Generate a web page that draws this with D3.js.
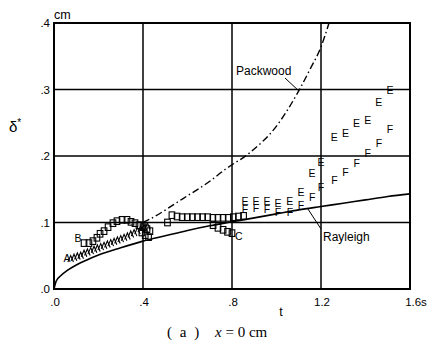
<!DOCTYPE html>
<head>
<meta charset='utf-8'>
<style>
  body { margin: 0; background: #fff; }
  svg text { fill: #000; }
  .tick-label { font-family: 'Liberation Sans', Arial, sans-serif; font-size: 11.5px; }
  .sym-letter { font-family: 'Liberation Sans', Arial, sans-serif; font-size: 10.5px; }
  .caption { font-family: 'Liberation Serif', 'Times New Roman', serif; font-size: 15px; }
</style>
</head>
<body>
<div id='vis'></div>
<script src='https://d3js.org/d3.v7.min.js'></script>
<script>
  // axis ticks and labels
  const xTicks = [0, 0.4, 0.8, 1.2, 1.6]
  const xTickLabels = ['.0', '.4', '.8', '1.2', '1.6s']
  const yTicks = [0, 0.1, 0.2, 0.3, 0.4]
  const yTickLabels = ['.0', '.1', '.2', '.3', '.4']

  // theory curves [t, delta*]
  const rayleigh = [[0,0],[0.01,0.012],[0.03,0.02],[0.06,0.028],[0.1,0.036],[0.15,0.044],[0.2,0.051],
    [0.3,0.062],[0.4,0.072],[0.5,0.08],[0.6,0.088],[0.7,0.095],[0.8,0.101],[0.9,0.107],[1.0,0.113],
    [1.1,0.119],[1.2,0.124],[1.3,0.129],[1.4,0.134],[1.5,0.139],[1.6,0.143]]
  const packwood = [[0.40,0.100],[0.43,0.105],[0.58,0.136],[0.70,0.162],[0.77,0.180],[0.88,0.205],
    [1.0,0.245],[1.1,0.298],[1.15,0.330],[1.2,0.364],[1.236,0.400]]

  // measured series [t, delta*]
  const seriesA = [[0.075,0.045],[0.09,0.047],[0.105,0.049],[0.12,0.050],[0.135,0.053],[0.15,0.055],
    [0.165,0.057],[0.18,0.059],[0.195,0.061],[0.21,0.063],[0.225,0.065],[0.24,0.067],[0.255,0.069],
    [0.27,0.071],[0.285,0.073],[0.30,0.075],[0.315,0.077],[0.33,0.079],[0.345,0.082],[0.36,0.084],
    [0.375,0.087],[0.39,0.090],[0.405,0.092],[0.42,0.094]]
  const seriesB = [[0.135,0.069],[0.157,0.069],[0.175,0.072],[0.193,0.077],[0.207,0.083],[0.225,0.087],
    [0.243,0.093],[0.265,0.099],[0.283,0.102],[0.306,0.104],[0.328,0.104],[0.346,0.101],[0.364,0.099],
    [0.382,0.096],[0.40,0.093],[0.418,0.090],[0.431,0.087],[0.395,0.085],[0.41,0.081],[0.425,0.078],
    [0.51,0.100],[0.53,0.111],[0.553,0.109],[0.576,0.108],[0.599,0.108],[0.622,0.108],[0.645,0.108],
    [0.668,0.108],[0.691,0.108],[0.714,0.107],[0.737,0.107],[0.76,0.107],[0.783,0.107],[0.806,0.108],
    [0.829,0.109],[0.852,0.110]]
  const seriesC = [[0.715,0.096],[0.737,0.092],[0.76,0.089],[0.78,0.086],[0.80,0.084]]
  const seriesE = [[0.858,0.132],[0.908,0.132],[0.957,0.132],[1.007,0.129],[1.06,0.132],[1.11,0.146],
    [1.16,0.174],[1.20,0.191],[1.26,0.229],[1.31,0.235],[1.36,0.250],[1.41,0.254],[1.46,0.281],[1.51,0.300]]
  const seriesF = [[0.858,0.120],[0.908,0.122],[0.957,0.120],[1.007,0.116],[1.06,0.116],[1.11,0.126],
    [1.16,0.138],[1.20,0.153],[1.26,0.164],[1.31,0.176],[1.36,0.189],[1.41,0.204],[1.46,0.220],[1.51,0.241]]

  const W = 433, H = 344

  const x = d3.scaleLinear().domain([0, 1.6]).range([54, 410])
  const y = d3.scaleLinear().domain([0, 0.4]).range([289, 23])

  const svg = d3.select('#vis').append('svg')
    .attr('width', W)
    .attr('height', H)

  // grid
  const grid = svg.append('g').attr('stroke', '#000').attr('stroke-width', 1.5)
  grid.selectAll('.vg').data(xTicks.slice(1, -1)).enter().append('line')
    .attr('x1', d => x(d)).attr('x2', d => x(d))
    .attr('y1', y(0)).attr('y2', y(0.4))
  grid.selectAll('.hg').data(yTicks.slice(1, -1)).enter().append('line')
    .attr('y1', d => y(d)).attr('y2', d => y(d))
    .attr('x1', x(0)).attr('x2', x(1.6))

  // frame
  svg.append('rect')
    .attr('x', x(0)).attr('y', y(0.4))
    .attr('width', x(1.6) - x(0)).attr('height', y(0) - y(0.4))
    .attr('fill', 'none').attr('stroke', '#000').attr('stroke-width', 2)

  // tick labels
  svg.selectAll('.xl').data(xTicks).enter().append('text')
    .attr('class', 'tick-label')
    .attr('x', (d, i) => x(d) + (i === xTicks.length - 1 ? 6 : 1))
    .attr('y', 306)
    .attr('text-anchor', 'middle')
    .text((d, i) => xTickLabels[i])
  svg.selectAll('.yl').data(yTicks).enter().append('text')
    .attr('class', 'tick-label')
    .attr('x', 50)
    .attr('y', d => y(d) + 4)
    .attr('text-anchor', 'end')
    .text((d, i) => yTickLabels[i])

  svg.append('text').attr('class', 'tick-label').attr('x', 54).attr('y', 19).style('font-size', '12.5px').text('cm')
  svg.append('text').attr('class', 'tick-label').attr('x', 281).attr('y', 316).attr('text-anchor', 'middle')
    .style('font-size', '12.5px').text('t')
  const yl = svg.append('text').attr('class', 'tick-label').attr('x', 9).attr('y', 132).style('font-size', '15px')
  yl.append('tspan').text('δ')
  yl.append('tspan').attr('dy', -6).style('font-size', '10px').text('*')

  // theory curves
  const line = d3.line().x(d => x(d[0])).y(d => y(d[1])).curve(d3.curveMonotoneX)
  svg.append('path').datum(rayleigh).attr('d', line)
    .attr('fill', 'none').attr('stroke', '#000').attr('stroke-width', 1.6)
  svg.append('path').datum(packwood).attr('d', line)
    .attr('fill', 'none').attr('stroke', '#000').attr('stroke-width', 1.4)
    .attr('stroke-dasharray', '7,3,1.5,3')

  // markers
  const marks = svg.append('g').attr('fill', 'none').attr('stroke', '#000').attr('stroke-width', 1.1)
  marks.selectAll('.tri').data(seriesA).enter().append('path')
    .attr('d', d => `M${x(d[0]) - 2.8},${y(d[1]) + 3}L${x(d[0])},${y(d[1]) - 3.5}L${x(d[0]) + 2.8},${y(d[1]) + 3}`)
  marks.selectAll('.sq').data(seriesB.concat(seriesC)).enter().append('rect')
    .attr('x', d => x(d[0]) - 2.8).attr('y', d => y(d[1]) - 3.3)
    .attr('width', 5.6).attr('height', 6.6)

  const letters = (data, ch) => svg.append('g').selectAll('text').data(data).enter().append('text')
    .attr('class', 'sym-letter')
    .attr('x', d => x(d[0]))
    .attr('y', d => y(d[1]) + 4)
    .attr('text-anchor', 'middle')
    .text(ch)
  letters(seriesE, 'E')
  letters(seriesF, 'F')

  // series tags
  svg.append('text').attr('class', 'sym-letter').attr('x', x(0.058)).attr('y', y(0.047) + 4).attr('text-anchor', 'middle').text('A')
  svg.append('text').attr('class', 'sym-letter').attr('x', x(0.108)).attr('y', y(0.076) + 4).attr('text-anchor', 'middle').text('B')
  svg.append('text').attr('class', 'sym-letter').attr('x', x(0.83)).attr('y', y(0.08) + 4).attr('text-anchor', 'middle').text('C')

  // curve labels with leaders
  svg.append('text').attr('class', 'tick-label').attr('x', 236).attr('y', 75).style('font-size', '12px').text('Packwood')
  svg.append('line').attr('x1', 285).attr('y1', 78).attr('x2', x(1.1)).attr('y2', y(0.298))
    .attr('stroke', '#000').attr('stroke-width', 1)
  svg.append('text').attr('class', 'tick-label').attr('x', 323).attr('y', 241).style('font-size', '12px').text('Rayleigh')
  svg.append('line').attr('x1', x(1.14)).attr('y1', y(0.121)).attr('x2', 321).attr('y2', 229)
    .attr('stroke', '#000').attr('stroke-width', 1)

  // caption
  const cap = svg.append('text').attr('class', 'caption').attr('x', 167).attr('y', 337)
  cap.append('tspan').style('letter-spacing', '2px').text('( a )')
  cap.append('tspan').attr('x', 215).style('font-style', 'italic').text('x')
  cap.append('tspan').text(' = 0 cm')
</script>
</body>
